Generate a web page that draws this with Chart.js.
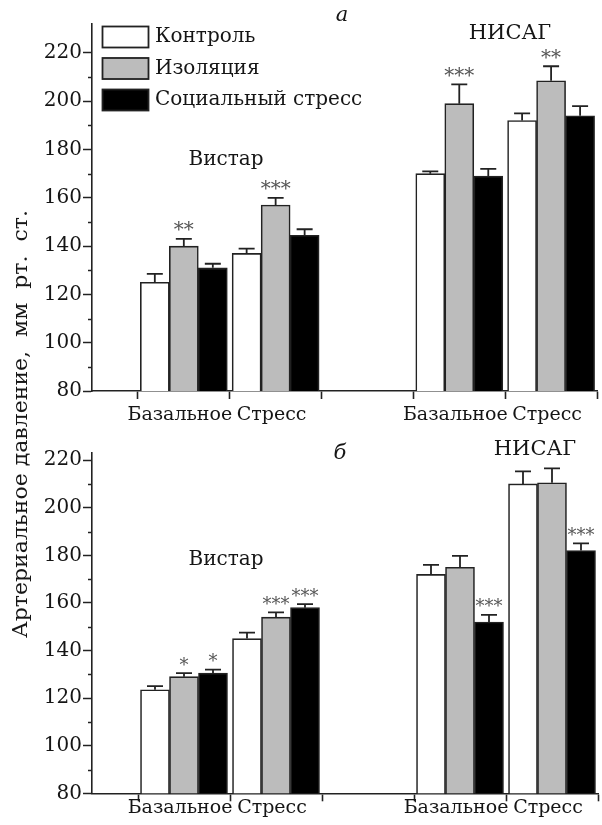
<!DOCTYPE html>
<html>
<head>
<meta charset="utf-8">
<script src="https://cdn.jsdelivr.net/npm/chart.js@4/dist/chart.umd.min.js"></script>
<style>
  html, body { margin: 0; padding: 0; background: #fff; }
  #wrap { position: relative; width: 602px; height: 825px; overflow: hidden; background: #fff; }
  canvas { position: absolute; left: 0; }
  #cA { top: 0; }
  #cB { top: 440px; }
  #ytitle {
    position: absolute; left: 20px; top: 424px;
    transform: translate(-50%, -50%) rotate(-90deg) scaleX(1.1);
    font: 20px "DejaVu Serif", serif;
    white-space: pre; color: #151515;
  }
</style>
</head>
<body>
<div id="wrap">
  <canvas id="cA" width="602" height="440"></canvas>
  <canvas id="cB" width="602" height="385"></canvas>
  <div id="ytitle">Артериальное давление,  мм  рт.  ст.</div>
</div>
<script>
// Series and category slots (slot 3 is the empty gap between strains)
const seriesNames = ['Контроль', 'Изоляция', 'Социальный стресс'];
const slotLabels = ['Базальное', 'Стресс', '', 'Базальное', 'Стресс'];
const yTicks = [80, 100, 120, 140, 160, 180, 200, 220];

// Panel а: means, SEM and significance marks
const aControl   = [125, 137, null, 170, 192];
const aIsolation = [140, 157, null, 199, 208.5];
const aSocial    = [131, 144.5, null, 169, 194];
const aControlErr   = [3.5, 2, null, 1, 3];
const aIsolationErr = [3, 3, null, 8, 6];
const aSocialErr    = [1.7, 2.5, null, 3, 4];
const aControlSig   = ['', '', '', '', ''];
const aIsolationSig = ['**', '***', '', '***', '**'];
const aSocialSig    = ['', '', '', '', ''];

// Panel б
const bControl   = [123.5, 145, null, 172, 210];
const bIsolation = [129, 154, null, 175, 210.5];
const bSocial    = [130.5, 158, null, 152, 182];
const bControlErr   = [1.5, 2.5, null, 4, 5.3];
const bIsolationErr = [1.5, 2, null, 4.8, 6];
const bSocialErr    = [1.5, 1.5, null, 3, 3];
const bControlSig   = ['', '', '', '', ''];
const bIsolationSig = ['*', '***', '', '', ''];
const bSocialSig    = ['*', '***', '', '***', '***'];

const FONT = '"DejaVu Serif", serif';
const fills = ['#ffffff', '#bcbcbc', '#000000'];
const INK = '#222222';

// Upper error whiskers plus significance asterisks above them
const whiskers = {
  id: 'whiskers',
  afterDatasetsDraw(chart, args, opts) {
    const { ctx } = chart;
    const y = chart.scales.y;
    ctx.save();
    chart.data.datasets.forEach((ds, di) => {
      const meta = chart.getDatasetMeta(di);
      meta.data.forEach((bar, i) => {
        const v = ds.data[i].y;
        if (v == null) return;
        const top = y.getPixelForValue(v + ds.errors[i]);
        ctx.strokeStyle = INK;
        ctx.lineWidth = 1.8;
        ctx.beginPath();
        ctx.moveTo(bar.x, bar.y);
        ctx.lineTo(bar.x, top);
        ctx.moveTo(bar.x - 8, top);
        ctx.lineTo(bar.x + 8, top);
        ctx.stroke();
        const mark = ds.marks[i];
        if (mark) {
          ctx.fillStyle = '#555';
          ctx.font = opts.markSize + 'px ' + FONT;
          ctx.textAlign = 'center';
          ctx.textBaseline = 'alphabetic';
          ctx.fillText(mark, bar.x, top - opts.markGap + opts.markSize * 0.58);
        }
      });
    });
    ctx.restore();
  }
};

// Minor ticks on the value axis
const minorTicks = {
  id: 'minorTicks',
  afterDraw(chart) {
    const { ctx } = chart;
    const y = chart.scales.y;
    ctx.save();
    ctx.strokeStyle = INK;
    ctx.lineWidth = 1.5;
    for (let v = 90; v < 220; v += 20) {
      const py = Math.round(y.getPixelForValue(v)) + 0.5;
      ctx.beginPath();
      ctx.moveTo(y.right - 4, py);
      ctx.lineTo(y.right, py);
      ctx.stroke();
    }
    ctx.restore();
  }
};

// Free text: strain names and panel letters
const notes = {
  id: 'notes',
  afterDraw(chart, args, opts) {
    const { ctx } = chart;
    ctx.save();
    ctx.fillStyle = '#151515';
    ctx.textAlign = 'center';
    ctx.textBaseline = 'middle';
    (opts.items || []).forEach(it => {
      ctx.font = (it.italic ? 'italic ' : '') + it.size + 'px ' + FONT;
      ctx.fillText(it.text, it.x, it.y);
    });
    ctx.restore();
  }
};

// Boxed legend drawn in the upper left of the plot
const boxLegend = {
  id: 'boxLegend',
  afterDraw(chart, args, opts) {
    if (!opts.show) return;
    const { ctx } = chart;
    ctx.save();
    chart.data.datasets.forEach((ds, i) => {
      const y0 = 26 + i * 31.5;
      ctx.fillStyle = ds.backgroundColor;
      ctx.fillRect(102, y0, 47, 22);
      ctx.strokeStyle = INK;
      ctx.lineWidth = 1.8;
      ctx.strokeRect(102.5, y0 + 0.5, 46, 21);
      ctx.fillStyle = '#151515';
      ctx.font = '20px ' + FONT;
      ctx.textAlign = 'left';
      ctx.textBaseline = 'middle';
      ctx.fillText(ds.label, 155, y0 + 11);
    });
    ctx.restore();
  }
};

function toPoints(values) {
  return values.map((v, i) => ({ x: i + 1, y: v }));
}

function makePanel(id, values, errors, marks, cfg) {
  const datasets = values.map((vals, k) => ({
    label: seriesNames[k],
    data: toPoints(vals),
    errors: errors[k],
    marks: marks[k],
    backgroundColor: fills[k],
    borderColor: INK,
    borderWidth: 1.6,
    borderSkipped: false,
    barThickness: 29
  }));
  return new Chart(document.getElementById(id), {
    type: 'bar',
    data: { datasets },
    options: {
      responsive: false,
      animation: false,
      events: [],
      layout: { padding: { top: cfg.padTop, right: cfg.padRight, left: 0, bottom: 0 } },
      plugins: {
        legend: { display: false },
        tooltip: { enabled: false },
        whiskers: { markSize: cfg.markSize, markGap: cfg.markGap },
        notes: { items: cfg.notes },
        boxLegend: { show: cfg.legend }
      },
      scales: {
        x: {
          type: 'linear',
          min: 0,
          max: 5.5,
          offset: false,
          afterFit: s => { s.height = cfg.xAxisH; },
          afterBuildTicks: s => {
            const t = [];
            for (let v = 0.5; v <= 5.5; v += 0.5) t.push({ value: v });
            s.ticks = t;
          },
          border: { color: INK, width: 1.6 },
          grid: {
            offset: false,
            drawOnChartArea: false,
            tickLength: 8,
            tickWidth: 1.6,
            tickColor: c => (c.tick && Number.isInteger(c.tick.value)) ? 'rgba(0,0,0,0)' : INK
          },
          ticks: {
            autoSkip: false,
            maxRotation: 0,
            padding: cfg.xPad,
            labelOffset: -4,
            color: '#151515',
            font: { family: FONT, size: 19 },
            callback: v => Number.isInteger(v) ? (slotLabels[v - 1] || '') : ''
          }
        },
        y: {
          min: 80,
          max: cfg.yMax,
          afterFit: s => { s.width = 92; },
          afterBuildTicks: s => { s.ticks = yTicks.map(v => ({ value: v })); },
          border: { color: INK, width: 1.6 },
          grid: { drawOnChartArea: false, tickLength: 9, tickWidth: 1.5, tickColor: INK },
          ticks: {
            padding: 1,
            color: '#151515',
            font: { family: FONT, size: 20 }
          }
        }
      }
    },
    plugins: [whiskers, minorTicks, notes, boxLegend]
  });
}

makePanel('cA',
  [aControl, aIsolation, aSocial],
  [aControlErr, aIsolationErr, aSocialErr],
  [aControlSig, aIsolationSig, aSocialSig],
  {
    yMax: 232, padTop: 24, padRight: 0, xAxisH: 49, xPad: 5,
    markSize: 20, markGap: 14, legend: true,
    notes: [
      { text: 'Вистар', x: 226, y: 160, size: 20 },
      { text: 'НИСАГ', x: 510, y: 34, size: 21 },
      { text: 'а', x: 342, y: 16, size: 21, italic: true }
    ]
  });

makePanel('cB',
  [bControl, bIsolation, bSocial],
  [bControlErr, bIsolationErr, bSocialErr],
  [bControlSig, bIsolationSig, bSocialSig],
  {
    yMax: 223, padTop: 9.5, padRight: 4, xAxisH: 31.7, xPad: -5,
    markSize: 18, markGap: 13, legend: false,
    notes: [
      { text: 'Вистар', x: 226, y: 120, size: 20 },
      { text: 'НИСАГ', x: 535, y: 10, size: 21 },
      { text: 'б', x: 340, y: 14, size: 21, italic: true }
    ]
  });
</script>
</body>
</html>
